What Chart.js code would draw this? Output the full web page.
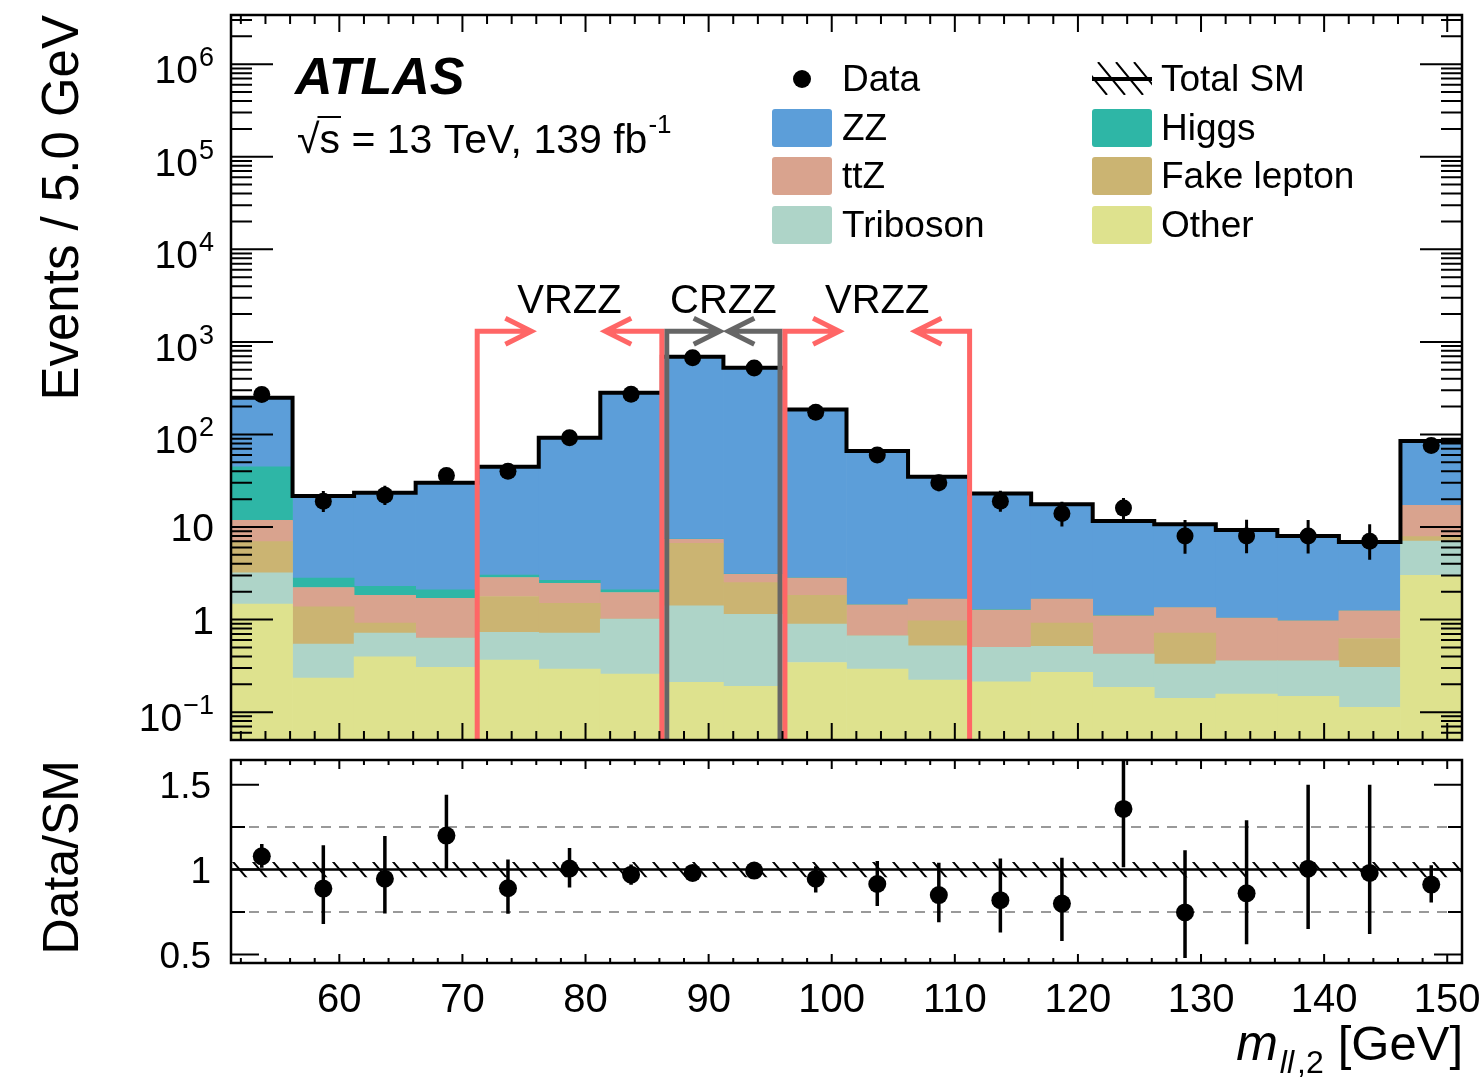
<!doctype html>
<html>
<head>
<meta charset="utf-8">
<title>m_ll,2 — VRZZ / CRZZ</title>
<script src="https://cdn.jsdelivr.net/npm/chart.js@4.4.1/dist/chart.umd.min.js"></script>
<style>
  html,body{margin:0;background:#fff}
  #wrap{position:relative;width:1481px;height:1083px;overflow:hidden;background:#fff}
  #wrap canvas{position:absolute;left:0}
  #main{top:0}
  #ratio{top:750px}
</style>
</head>
<body>
<div id="wrap">
  <canvas id="main" width="1481" height="750"></canvas>
  <canvas id="ratio" width="1481" height="333"></canvas>
</div>
<script>
const FONT = '"Liberation Sans", Arial, Helvetica, sans-serif';

// 5 GeV bins around m_Z
const binEdges = [51.2, 56.2, 61.2, 66.2, 71.2, 76.2, 81.2, 86.2, 91.2, 96.2, 101.2,
  106.2, 111.2, 116.2, 121.2, 126.2, 131.2, 136.2, 141.2, 146.2, 151.2];
const binCenters = [53.7, 58.7, 63.7, 68.7, 73.7, 78.7, 83.7, 88.7, 93.7, 98.7,
  103.7, 108.7, 113.7, 118.7, 123.7, 128.7, 133.7, 138.7, 143.7, 148.7];

// expected events per bin, stacked bottom -> top
const other      = [1.47, 0.233, 0.396, 0.304, 0.365, 0.292, 0.258, 0.21, 0.19, 0.344, 0.292, 0.222, 0.213, 0.269, 0.185, 0.141, 0.157, 0.148, 0.113, 3.01];
const triboson   = [1.72, 0.31, 0.317, 0.326, 0.361, 0.421, 0.752, 1.20, 0.95, 0.548, 0.375, 0.298, 0.287, 0.244, 0.238, 0.189, 0.201, 0.21, 0.191, 4.05];
const fakeLepton = [3.77, 0.827, 0.202, 0, 1.05, 0.787, 0, 5.26, 1.37, 0.938, 0, 0.448, 0, 0.402, 0, 0.383, 0, 0, 0.321, 0.82];
const ttZ        = [4.84, 0.85, 0.915, 1.07, 1.07, 0.97, 0.95, 0.70, 0.58, 0.97, 0.773, 0.692, 0.77, 0.745, 0.677, 0.637, 0.677, 0.61, 0.615, 9.22];
const higgs      = [33.0, 0.58, 0.45, 0.39, 0.18, 0.19, 0.13, 0.03, 0.01, 0.02, 0.01, 0.01, 0.01, 0.01, 0.01, 0.01, 0.005, 0.002, 0.004, 0];
const zz         = [204, 18.8, 21.2, 28.0, 41.8, 89.4, 280, 682, 522, 183, 64.6, 33.3, 21.8, 15.9, 10.5, 9.34, 8.25, 7.03, 5.65, 67.6];

const dataCounts = [270, 19, 22, 36, 40, 92, 272, 673, 522, 174, 60, 30, 19, 14, 16, 8, 8, 8, 7, 76];

// Data/SM panel
const ratio   = [1.078, 0.888, 0.946, 1.20, 0.89, 1.006, 0.97, 0.98, 0.994, 0.946, 0.915, 0.85, 0.82, 0.80, 1.357, 0.748, 0.86, 1.005, 0.98, 0.912];
const ratioHi = [1.15, 1.143, 1.197, 1.44, 1.06, 1.127, 1.03, 1.02, 1.04, 1.02, 1.05, 1.04, 1.065, 1.07, 1.75, 1.113, 1.29, 1.50, 1.50, 1.025];
const ratioLo = [1.01, 0.679, 0.742, 1.00, 0.74, 0.895, 0.91, 0.94, 0.95, 0.865, 0.786, 0.69, 0.63, 0.58, 1.014, 0.48, 0.56, 0.65, 0.62, 0.806];
const smUnc   = [0.045, 0.045, 0.045, 0.045, 0.045, 0.045, 0.045, 0.045, 0.045, 0.045, 0.045, 0.045, 0.045, 0.045, 0.045, 0.045, 0.045, 0.045, 0.045, 0.045];

const xMajorTicks = [60, 70, 80, 90, 100, 110, 120, 130, 140, 150];
const yDecades = [-1, 0, 1, 2, 3, 4, 5, 6];
const ratioTicks = [0.5, 1, 1.5];
const ratioMinor = [0.75, 1.25];

// region markers (GeV)
const redLines   = [[71.2, 75.6], [86.2, 81.6], [96.2, 100.6], [111.2, 106.8]];
const greyLines  = [[86.6, 90.9], [95.8, 91.6]];
const regionTags = [['VRZZ', 78.7], ['CRZZ', 91.2], ['VRZZ', 103.7]];
const regionY = 1300;

const Y_MIN = 0.05, Y_MAX = 3.4e6;
const R_MIN = 0.45, R_MAX = 1.645;

const samples = [
  { label: 'Other',       values: other,      color: '#dee28e' },
  { label: 'Triboson',    values: triboson,   color: '#aed4c8' },
  { label: 'Fake lepton', values: fakeLepton, color: '#cbb472' },
  { label: 'ttZ',         values: ttZ,        color: '#d9a38e' },
  { label: 'Higgs',       values: higgs,      color: '#2eb6a6' },
  { label: 'ZZ',          values: zz,         color: '#5c9ed9' },
];
const colorOf = (l) => samples.find((s) => s.label === l).color;

// floating bars: each layer sits on the running sum
const cum = binCenters.map(() => 0);
const stackSets = samples.map((s) => ({
  type: 'bar',
  label: s.label,
  order: 3,
  grouped: false,
  barPercentage: 1,
  categoryPercentage: 1,
  borderWidth: 0,
  backgroundColor: s.color,
  data: binCenters.map((c, i) => {
    const lo = cum[i] > 0 ? cum[i] : Y_MIN;
    cum[i] += s.values[i];
    return { x: c, y: [lo, Math.max(cum[i], lo)] };
  }),
}));
const totalSM = cum.slice();

const smStep = {
  type: 'line', label: 'Total SM', order: 1,
  data: binEdges.map((e, i) => ({ x: e, y: totalSM[Math.min(i, totalSM.length - 1)] })),
  stepped: true, borderColor: '#000', borderWidth: 4, pointRadius: 0, fill: false,
};
const dataPts = {
  type: 'line', label: 'Data', order: 0, showLine: false,
  data: binCenters.map((c, i) => ({ x: c, y: dataCounts[i] })),
  pointRadius: 8.5, pointBackgroundColor: '#000', pointBorderWidth: 0,
};

function xAxis() {
  return {
    type: 'linear', min: binEdges[0], max: binEdges[binEdges.length - 1],
    display: false, offset: false, grid: { offset: false },
    afterBuildTicks: (ax) => { ax.ticks = binEdges.map((v) => ({ value: v })); },
  };
}

function line(ctx, x0, y0, x1, y1) { ctx.moveTo(x0, y0); ctx.lineTo(x1, y1); }

function drawXTicks(chart, major, minor) {
  const { ctx, chartArea: a, scales: { x } } = chart;
  for (let v = 52; v <= 150; v += 2) {
    const px = x.getPixelForValue(v);
    const len = v % 10 === 0 ? major : minor;
    line(ctx, px, a.bottom, px, a.bottom - len);
    line(ctx, px, a.top, px, a.top + len);
  }
}

function arrowHead(ctx, tx, ty, dir) {
  ctx.moveTo(tx - dir * 26, ty - 13);
  ctx.lineTo(tx, ty);
  ctx.lineTo(tx - dir * 26, ty + 13);
}

const mainDecor = {
  id: 'mainDecor',
  beforeDatasetDraw(chart, args) {
    if (chart.data.datasets[args.index] !== dataPts) return;
    const { ctx, chartArea: a, scales: { x, y } } = chart;
    ctx.save();
    ctx.beginPath(); ctx.rect(a.left, a.top, a.width, a.height); ctx.clip();
    ctx.strokeStyle = '#000'; ctx.lineWidth = 3;
    ctx.beginPath();
    binCenters.forEach((c, i) => {
      const px = x.getPixelForValue(c);
      const hi = dataCounts[i] * ratioHi[i] / ratio[i];
      const lo = dataCounts[i] * ratioLo[i] / ratio[i];
      line(ctx, px, y.getPixelForValue(hi), px, y.getPixelForValue(lo));
    });
    ctx.stroke();
    ctx.restore();
  },
  afterDatasetsDraw(chart) {
    const { ctx, chartArea: a, scales: { x, y } } = chart;
    const ty = y.getPixelForValue(regionY);
    ctx.save();
    ctx.lineWidth = 5; ctx.lineJoin = 'miter'; ctx.lineCap = 'butt';
    const draw = (defs, color) => {
      ctx.strokeStyle = color;
      for (const [from, tip] of defs) {
        const px = x.getPixelForValue(from), tx = x.getPixelForValue(tip);
        ctx.beginPath();
        ctx.moveTo(px, a.bottom); ctx.lineTo(px, ty); ctx.lineTo(tx, ty);
        arrowHead(ctx, tx, ty, Math.sign(tip - from));
        ctx.stroke();
      }
    };
    draw(greyLines, '#666666');
    draw(redLines, '#ff6666');
    ctx.fillStyle = '#000';
    ctx.font = `40px ${FONT}`;
    ctx.textAlign = 'center';
    for (const [t, v] of regionTags) ctx.fillText(t, x.getPixelForValue(v), ty - 18);
    ctx.restore();
  },
  afterDraw(chart) {
    const { ctx, chartArea: a, scales: { y } } = chart;
    ctx.save();
    ctx.strokeStyle = '#000'; ctx.lineWidth = 2;
    ctx.beginPath();
    drawXTicks(chart, 17, 9);
    for (let d = -2; d <= 6; d++) {
      for (let k = 1; k <= 9; k++) {
        const v = k * Math.pow(10, d);
        if (v < y.min || v > y.max) continue;
        const py = y.getPixelForValue(v);
        const len = k === 1 ? 42 : 21;
        line(ctx, a.left, py, a.left + len, py);
        line(ctx, a.right, py, a.right - len, py);
      }
    }
    ctx.stroke();
    ctx.lineWidth = 2.5;
    ctx.strokeRect(a.left, a.top, a.width, a.height);

    // y tick labels 10^n
    ctx.fillStyle = '#000';
    ctx.textAlign = 'right';
    const rx = 214;
    for (const d of yDecades) {
      const py = y.getPixelForValue(Math.pow(10, d));
      if (d === 0 || d === 1) {
        ctx.font = `39px ${FONT}`;
        ctx.fillText(d === 0 ? '1' : '10', rx, py + 14);
        continue;
      }
      const sup = d < 0 ? '\u2212' + (-d) : String(d);
      ctx.font = `27px ${FONT}`;
      const ws = ctx.measureText(sup).width;
      ctx.fillText(sup, rx, py + 2);
      ctx.font = `39px ${FONT}`;
      ctx.fillText('10', rx - ws - 1, py + 19);
    }

    // y title
    ctx.save();
    ctx.translate(78, a.top);
    ctx.rotate(-Math.PI / 2);
    ctx.textAlign = 'right';
    ctx.font = `51px ${FONT}`;
    ctx.fillText('Events / 5.0 GeV', 0, 0);
    ctx.restore();

    // ATLAS label
    ctx.textAlign = 'left';
    ctx.font = `italic bold 52px ${FONT}`;
    ctx.fillText('ATLAS', 295, 94);
    ctx.font = `41px ${FONT}`;
    let cx = 297;
    const base = 153;
    ctx.fillText('\u221A', cx, base);
    cx += ctx.measureText('\u221A').width;
    const wsq = ctx.measureText('s').width;
    ctx.fillText('s', cx, base);
    ctx.fillRect(cx - 2, base - 37, wsq + 3, 2);
    cx += wsq;
    const rest = ' = 13 TeV, 139 fb';
    ctx.fillText(rest, cx, base);
    cx += ctx.measureText(rest).width + 1;
    ctx.font = `26px ${FONT}`;
    ctx.fillText('-1', cx, base - 20);

    // legend
    const rows = [91, 140, 188, 237];
    const colBox = [772, 1092], colText = [842, 1161];
    const legend = [
      [['Data', 'data'], ['ZZ'], ['ttZ'], ['Triboson']],
      [['Total SM', 'sm'], ['Higgs'], ['Fake lepton'], ['Other']],
    ];
    ctx.font = `37px ${FONT}`;
    legend.forEach((col, ci) => {
      col.forEach(([label, kind], ri) => {
        const b = rows[ri], bx = colBox[ci];
        if (kind === 'data') {
          ctx.beginPath(); ctx.arc(bx + 30, b - 12, 9, 0, 2 * Math.PI); ctx.fill();
        } else if (kind === 'sm') {
          ctx.save();
          ctx.beginPath(); ctx.rect(bx, b - 29, 60, 33); ctx.clip();
          ctx.lineWidth = 2;
          ctx.beginPath();
          for (let hx = bx - 30; hx < bx + 60; hx += 18) line(ctx, hx, b - 29, hx + 27, b + 4);
          ctx.stroke();
          ctx.restore();
          ctx.fillRect(bx, b - 14, 60, 4);
        } else {
          ctx.fillStyle = colorOf(label);
          ctx.beginPath();
          if (ctx.roundRect) ctx.roundRect(bx, b - 31, 60, 38, 3); else ctx.rect(bx, b - 31, 60, 38);
          ctx.fill();
          ctx.fillStyle = '#000';
        }
        ctx.fillText(label, colText[ci], b);
      });
    });
    ctx.restore();
  },
};

new Chart(document.getElementById('main'), {
  type: 'bar',
  data: { datasets: [dataPts, smStep, ...stackSets] },
  options: {
    responsive: false, animation: false, devicePixelRatio: 1,
    layout: { padding: { left: 231, right: 19, top: 15, bottom: 10 } },
    plugins: { legend: { display: false }, tooltip: { enabled: false } },
    scales: {
      x: xAxis(),
      y: { type: 'logarithmic', min: Y_MIN, max: Y_MAX, display: false },
    },
  },
  plugins: [mainDecor],
});

const ratioDecor = {
  id: 'ratioDecor',
  beforeDatasetsDraw(chart) {
    const { ctx, chartArea: a, scales: { x, y } } = chart;
    ctx.save();
    ctx.beginPath(); ctx.rect(a.left, a.top, a.width, a.height); ctx.clip();
    // dashed guides
    ctx.strokeStyle = '#999'; ctx.lineWidth = 2; ctx.setLineDash([10, 8]);
    ctx.beginPath();
    for (const v of ratioMinor) line(ctx, a.left, y.getPixelForValue(v), a.right, y.getPixelForValue(v));
    ctx.stroke();
    ctx.setLineDash([]);
    ctx.strokeStyle = '#000';
    // hatched SM uncertainty
    ctx.save();
    ctx.beginPath();
    binCenters.forEach((c, i) => {
      const x0 = x.getPixelForValue(binEdges[i]), x1 = x.getPixelForValue(binEdges[i + 1]);
      const t = y.getPixelForValue(1 + smUnc[i]), b = y.getPixelForValue(1 - smUnc[i]);
      ctx.rect(x0, t, x1 - x0, b - t);
    });
    ctx.clip();
    ctx.lineWidth = 2;
    const t0 = y.getPixelForValue(1.06), b0 = y.getPixelForValue(0.94);
    ctx.beginPath();
    for (let hx = a.left - 40; hx < a.right + 20; hx += 20) line(ctx, hx, t0, hx + 0.85 * (b0 - t0), b0);
    ctx.stroke();
    ctx.restore();
    // unity
    ctx.strokeStyle = '#000';
    ctx.lineWidth = 2.5;
    ctx.beginPath();
    line(ctx, a.left, y.getPixelForValue(1), a.right, y.getPixelForValue(1));
    ctx.stroke();
    // error bars
    ctx.lineWidth = 3.5;
    ctx.beginPath();
    binCenters.forEach((c, i) => {
      const px = x.getPixelForValue(c);
      line(ctx, px, y.getPixelForValue(ratioHi[i]), px, y.getPixelForValue(ratioLo[i]));
    });
    ctx.stroke();
    ctx.restore();
  },
  afterDraw(chart) {
    const { ctx, chartArea: a, scales: { x, y } } = chart;
    ctx.save();
    ctx.strokeStyle = '#000'; ctx.lineWidth = 2;
    ctx.beginPath();
    drawXTicks(chart, 9, 5);
    for (const v of ratioTicks.concat(ratioMinor)) {
      const py = y.getPixelForValue(v);
      const len = ratioTicks.includes(v) ? 28 : 14;
      line(ctx, a.left, py, a.left + len, py);
      line(ctx, a.right, py, a.right - len, py);
    }
    ctx.stroke();
    ctx.lineWidth = 2.5;
    ctx.strokeRect(a.left, a.top, a.width, a.height);

    ctx.fillStyle = '#000';
    ctx.font = `37px ${FONT}`;
    ctx.textAlign = 'right';
    for (const v of ratioTicks) ctx.fillText(String(v), 211, y.getPixelForValue(v) + 13);

    ctx.font = `40px ${FONT}`;
    ctx.textAlign = 'center';
    for (const v of xMajorTicks) ctx.fillText(String(v), x.getPixelForValue(v), a.bottom + 49);

    // x title: m_{ll,2} [GeV]
    ctx.textAlign = 'left';
    const base = a.bottom + 97;
    ctx.font = `49px ${FONT}`;
    const unit = '[GeV]';
    let cx = a.right + 1 - ctx.measureText(unit).width;
    ctx.fillText(unit, cx, base);
    ctx.font = `32px ${FONT}`;
    const w2 = ctx.measureText(',2').width;
    ctx.font = `italic 32px ${FONT}`;
    const wll = ctx.measureText('ll').width + 3;
    cx -= 14 + w2 + wll;
    ctx.fillText('l l'.replace(' ', ''), cx, base + 13);
    ctx.font = `32px ${FONT}`;
    ctx.fillText(',2', cx + wll, base + 13);
    ctx.font = `italic 50px ${FONT}`;
    ctx.fillText('m', cx - 2 - ctx.measureText('m').width, base);

    // y title
    ctx.save();
    ctx.translate(78, a.top);
    ctx.rotate(-Math.PI / 2);
    ctx.textAlign = 'right';
    ctx.font = `50px ${FONT}`;
    ctx.fillText('Data/SM', 0, 0);
    ctx.restore();
    ctx.restore();
  },
};

new Chart(document.getElementById('ratio'), {
  type: 'line',
  data: {
    datasets: [{
      label: 'Data/SM', showLine: false,
      data: binCenters.map((c, i) => ({ x: c, y: ratio[i] })),
      pointRadius: 9, pointBackgroundColor: '#000', pointBorderWidth: 0,
    }],
  },
  options: {
    responsive: false, animation: false, devicePixelRatio: 1,
    layout: { padding: { left: 231, right: 19, top: 10, bottom: 120 } },
    plugins: { legend: { display: false }, tooltip: { enabled: false } },
    scales: {
      x: xAxis(),
      y: { type: 'linear', min: R_MIN, max: R_MAX, display: false },
    },
  },
  plugins: [ratioDecor],
});
</script>
</body>
</html>
